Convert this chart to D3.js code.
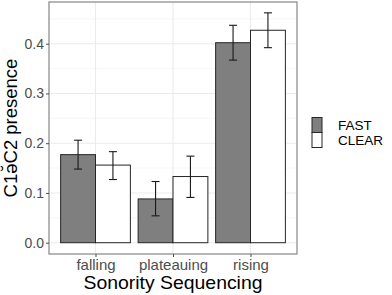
<!DOCTYPE html>
<html>
<head>
<meta charset="utf-8">
<script src="https://cdn.jsdelivr.net/npm/d3@7"></script>
<style>
  body { margin: 0; background: #fff; }
  text { font-family: "Liberation Sans", Arial, sans-serif; }
</style>
</head>
<body>
<div class="chart"></div>
<script>
const WIDTH = 392;
const HEIGHT = 295;

const PANEL = { left: 49, right: 297, top: 2, bottom: 254 };

var categories = ['falling', 'plateauing', 'rising'];
var groups = ['FAST', 'CLEAR'];
var fastMean = [0.177, 0.088, 0.402];
var fastLow = [0.148, 0.054, 0.367];
var fastHigh = [0.206, 0.123, 0.437];
var clearMean = [0.156, 0.133, 0.427];
var clearLow = [0.127, 0.091, 0.392];
var clearHigh = [0.183, 0.174, 0.462];
var yTicks = [0.0, 0.1, 0.2, 0.3, 0.4];
var yMinor = [0.05, 0.15, 0.25, 0.35, 0.45];

var colors = { FAST: '#7f7f7f', CLEAR: '#ffffff' };

var rows = [];
categories.forEach(function (c, i) {
    rows.push({ cat: c, group: 'FAST', mean: fastMean[i], lo: fastLow[i], hi: fastHigh[i] });
    rows.push({ cat: c, group: 'CLEAR', mean: clearMean[i], lo: clearLow[i], hi: clearHigh[i] });
});

var _svg = d3.select('.chart').append('svg')
    .attr('width', WIDTH)
    .attr('height', HEIGHT);

// discrete x with ggplot style 0.6 expansion
var _xScale = d3.scalePoint()
    .domain(categories)
    .range([PANEL.left, PANEL.right])
    .padding(0.6);
var step = _xScale.step();

var _xInner = d3.scaleBand()
    .domain(groups)
    .range([-0.45 * step, 0.45 * step]);

var _yScale = d3.scaleLinear()
    .domain([-0.0227, 0.4838])
    .range([PANEL.bottom, PANEL.top]);

// panel grid
var grid = _svg.append('g');
grid.selectAll('line.minor').data(yMinor)
    .enter().append('line')
    .attr('x1', PANEL.left).attr('x2', PANEL.right)
    .attr('y1', function (d) { return _yScale(d); })
    .attr('y2', function (d) { return _yScale(d); })
    .attr('stroke', '#f2f2f2').attr('stroke-width', 0.7);
grid.selectAll('line.major').data(yTicks)
    .enter().append('line')
    .attr('x1', PANEL.left).attr('x2', PANEL.right)
    .attr('y1', function (d) { return _yScale(d); })
    .attr('y2', function (d) { return _yScale(d); })
    .attr('stroke', '#ebebeb').attr('stroke-width', 1.1);
grid.selectAll('line.vmajor').data(categories)
    .enter().append('line')
    .attr('x1', function (d) { return _xScale(d); })
    .attr('x2', function (d) { return _xScale(d); })
    .attr('y1', PANEL.top).attr('y2', PANEL.bottom)
    .attr('stroke', '#ebebeb').attr('stroke-width', 1.1);

// bars
_svg.append('g').selectAll('rect').data(rows)
    .enter().append('rect')
    .attr('x', function (d) { return _xScale(d.cat) + _xInner(d.group); })
    .attr('width', _xInner.bandwidth())
    .attr('y', function (d) { return _yScale(d.mean); })
    .attr('height', function (d) { return _yScale(0) - _yScale(d.mean); })
    .attr('fill', function (d) { return colors[d.group]; })
    .attr('stroke', '#262626')
    .attr('stroke-width', 1);

// error bars
var capHalf = 4;
var eb = _svg.append('g').attr('stroke', '#1a1a1a').attr('stroke-width', 1.1);
rows.forEach(function (d) {
    var cx = _xScale(d.cat) + _xInner(d.group) + _xInner.bandwidth() / 2;
    eb.append('line').attr('x1', cx).attr('x2', cx)
        .attr('y1', _yScale(d.lo)).attr('y2', _yScale(d.hi));
    eb.append('line').attr('x1', cx - capHalf).attr('x2', cx + capHalf)
        .attr('y1', _yScale(d.lo)).attr('y2', _yScale(d.lo));
    eb.append('line').attr('x1', cx - capHalf).attr('x2', cx + capHalf)
        .attr('y1', _yScale(d.hi)).attr('y2', _yScale(d.hi));
});

// panel border
_svg.append('rect')
    .attr('x', PANEL.left).attr('y', PANEL.top)
    .attr('width', PANEL.right - PANEL.left)
    .attr('height', PANEL.bottom - PANEL.top)
    .attr('fill', 'none')
    .attr('stroke', '#8f8f8f')
    .attr('stroke-width', 1.3);

// axes
var yAxis = d3.axisLeft(_yScale)
    .tickValues(yTicks)
    .tickFormat(d3.format('.1f'))
    .tickSize(3)
    .tickPadding(2);
var gy = _svg.append('g')
    .attr('transform', 'translate(' + PANEL.left + ',0)')
    .call(yAxis);
gy.select('.domain').remove();
gy.selectAll('line').attr('stroke', '#4d4d4d');
gy.selectAll('text').attr('fill', '#4d4d4d').style('font-size', '14px');

var xAxis = d3.axisBottom(_xScale)
    .tickSize(3)
    .tickPadding(2);
var gx = _svg.append('g')
    .attr('transform', 'translate(0,' + PANEL.bottom + ')')
    .call(xAxis);
gx.select('.domain').remove();
gx.selectAll('line').attr('stroke', '#4d4d4d');
gx.selectAll('text').attr('fill', '#4d4d4d').style('font-size', '15px');

// titles
_svg.append('text')
    .attr('x', (PANEL.left + PANEL.right) / 2)
    .attr('y', 289)
    .attr('text-anchor', 'middle')
    .attr('textLength', 179)
    .attr('lengthAdjust', 'spacingAndGlyphs')
    .style('font-size', '18.5px')
    .text('Sonority Sequencing');

_svg.append('text')
    .attr('transform', 'translate(17,' + (PANEL.top + PANEL.bottom) / 2 + ') rotate(-90)')
    .attr('text-anchor', 'middle')
    .style('font-size', '18.5px')
    .text('C1\u0259\u0306C2 presence');

// legend
var legend = _svg.append('g').attr('transform', 'translate(312,117.5)');
groups.forEach(function (g, i) {
    legend.append('rect')
        .attr('x', 0).attr('y', i * 15)
        .attr('width', 10).attr('height', 15)
        .attr('fill', colors[g])
        .attr('stroke', '#262626')
        .attr('stroke-width', 1);
    legend.append('text')
        .attr('x', 26).attr('y', i * 15 + 12)
        .style('font-size', '13.5px')
        .attr('fill', '#000')
        .text(g);
});
</script>
</body>
</html>
